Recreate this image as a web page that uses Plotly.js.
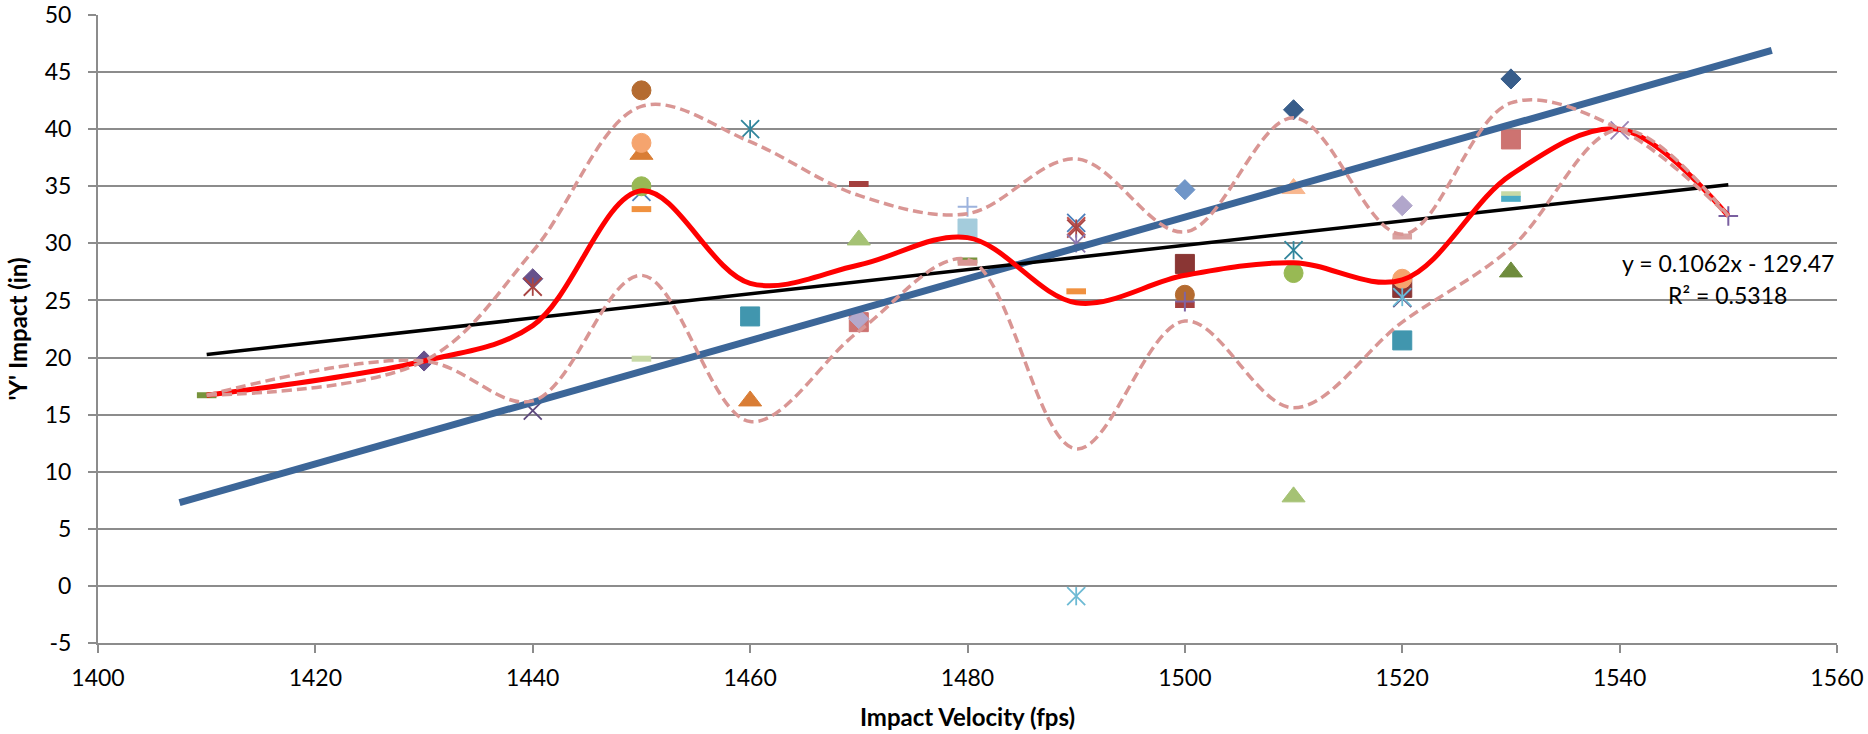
<!DOCTYPE html>
<html>
<head>
<meta charset="utf-8">
<script src="https://cdn.plot.ly/plotly-3.0.1.min.js"></script>
<style>
  html, body { margin: 0; padding: 0; background: #ffffff; }
  #chart { width: 1868px; height: 734px; }
</style>
</head>
<body>
<div id="chart"></div>
<script>
// ---------- data ----------
// velocities where the summary curves are defined
const velX   = [1410, 1430, 1440, 1450, 1460, 1470, 1480, 1490, 1500, 1510, 1520, 1530, 1540, 1550];
const meanY  = [16.7, 19.7, 22.8, 34.6, 26.5, 28.1, 30.5, 24.8, 27.2, 28.3, 26.8, 36.0, 40.0, 32.4];
const upperY = [16.7, 19.7, 29.3, 42.0, 38.9, 34.2, 32.6, 37.4, 31.0, 41.0, 30.8, 42.3, 40.0, 32.4];
const lowerY = [16.7, 19.7, 16.2, 27.2, 14.4, 22.3, 28.6, 12.0, 23.2, 15.6, 23.1, 29.6, 40.0, 32.4];

// linear trendline (y = 0.1062x - 129.47) end points
const trendX = [1410, 1550];
const trendY = [20.27, 35.14];
const trendLabel1 = "y = 0.1062x - 129.47";
const trendLabel2 = "R² = 0.5318";

// thick blue reference line end points
const blueX = [1407.5, 1554];
const blueY = [7.3, 46.9];

// individual shots grouped by marker shape
const diamondX = [1430, 1440, 1470, 1500, 1510, 1520, 1530];
const diamondY = [19.7, 26.9, 23.4, 34.7, 41.7, 33.3, 44.4];
const diamondC = ['#66518C', '#66518C', '#B3A8CB', '#7096C8', '#385D8A', '#B1A6CB', '#385D8A'];

const squareX = [1460, 1470, 1480, 1500, 1520, 1520, 1530];
const squareY = [23.6, 23.1, 31.3, 28.2, 26.1, 21.5, 39.1];
const squareC = ['#4196AE', '#CD7371', '#A4CCDC', '#8A3634', '#8A3634', '#4196AE', '#CD7371'];

const triangleX = [1450, 1460, 1470, 1510, 1510, 1530];
const triangleY = [37.8, 16.2, 30.3, 34.8, 7.8, 27.5];
const triangleC = ['#D97D35', '#D97D35', '#A5C274', '#F8B78F', '#A5C274', '#6F8C3D'];

const circleX = [1450, 1450, 1450, 1500, 1510, 1520];
const circleY = [43.4, 38.8, 35.0, 25.5, 27.4, 26.9];
const circleC = ['#B46B30', '#F5A46E', '#98B954', '#B46B30', '#98B954', '#F5A46E'];

const dashX = [1410, 1450, 1450, 1470, 1480, 1480, 1490, 1500, 1520, 1530, 1530];
const dashY = [16.7, 33.0, 19.9, 35.2, 28.5, 28.3, 25.8, 24.6, 30.6, 34.3, 33.9];
const dashC = ['#77933C', '#F0913F', '#C7D9A6', '#A4403E', '#77933C', '#D99694', '#F0913F', '#A4403E', '#D9A3A2', '#C7D9A6', '#4BACC6'];

const crossX = [1440, 1450, 1490, 1490, 1520, 1540];
const crossY = [15.35, 34.5, 31.8, 31.5, 25.2, 39.9];
const crossC = ['#5E4A7E', '#4A7EBB', '#4A7EBB', '#C0504D', '#5E4A7E', '#9983B5'];

const starX = [1440, 1460, 1490, 1490, 1490, 1510, 1520];
const starY = [26.2, 40.0, 31.3, 30.0, -0.9, 29.4, 25.3];
const starC = ['#A94442', '#31859C', '#A94442', '#8A76B0', '#6DBAD4', '#31859C', '#6DBAD4'];

const plusX = [1480, 1500, 1550];
const plusY = [33.2, 24.9, 32.4];
const plusC = ['#9DB3DD', '#8064A2', '#7A5FA0'];

const xTicks = [1400, 1420, 1440, 1460, 1480, 1500, 1520, 1540, 1560];
const yTicks = [-5, 0, 5, 10, 15, 20, 25, 30, 35, 40, 45, 50];

// ---------- traces ----------
function markers(x, y, c, symbol, size, lw) {
  return {
    type: 'scatter', mode: 'markers', x: x, y: y,
    hoverinfo: 'skip', showlegend: false,
    marker: { symbol: symbol, size: size, color: c, line: { color: c, width: lw } }
  };
}

const traces = [
  markers(squareX, squareY, squareC, 'square', 19, 1),
  markers(diamondX, diamondY, diamondC, 'diamond', 15.5, 1),
  markers(triangleX, triangleY, triangleC, 'triangle-up', 20, 1),
  markers(crossX, crossY, crossC, 'x-thin', 18, 1.8),
  markers(circleX, circleY, circleC, 'circle', 19, 1),
  markers(dashX, dashY, dashC, 'line-ew', 14, 6),
  markers(starX, starY, starC, 'x-thin', 18, 1.8),
  markers(starX, starY, starC, 'line-ns', 13, 1.8),
  markers(plusX, plusY, plusC, 'cross-thin', 14, 2),
  {
    type: 'scatter', mode: 'lines', x: blueX, y: blueY,
    hoverinfo: 'skip', showlegend: false,
    line: { color: '#3C6698', width: 7 }
  },
  {
    type: 'scatter', mode: 'lines', x: trendX, y: trendY,
    hoverinfo: 'skip', showlegend: false,
    line: { color: '#000000', width: 3.5 }
  },
  {
    type: 'scatter', mode: 'lines', x: velX, y: meanY,
    hoverinfo: 'skip', showlegend: false,
    line: { color: '#FF0000', width: 5, shape: 'spline', smoothing: 1 }
  },
  {
    type: 'scatter', mode: 'lines', x: velX, y: upperY,
    hoverinfo: 'skip', showlegend: false,
    line: { color: '#D99694', width: 3.5, dash: '10px,5px', shape: 'spline', smoothing: 1 }
  },
  {
    type: 'scatter', mode: 'lines', x: velX, y: lowerY,
    hoverinfo: 'skip', showlegend: false,
    line: { color: '#D99694', width: 3.5, dash: '10px,5px', shape: 'spline', smoothing: 1 }
  }
];

const FONT = 'Lato, "Open Sans", sans-serif';

const layout = {
  width: 1868, height: 734,
  margin: { l: 98, r: 31, t: 15, b: 91 },
  paper_bgcolor: '#ffffff', plot_bgcolor: '#ffffff',
  showlegend: false,
  font: { family: FONT, size: 23, color: '#000000' },
  xaxis: {
    range: [1400, 1560], tickvals: xTicks, ticktext: xTicks.map(String),
    showgrid: false, zeroline: false,
    showline: true, linecolor: '#8C8C8C', linewidth: 2,
    ticks: 'outside', ticklen: 8, tickwidth: 2, tickcolor: '#8C8C8C',
    tickfont: { family: FONT, size: 23, color: '#000000' },
    ticklabelstandoff: 5,
    title: { text: 'Impact Velocity (fps)', font: { family: FONT, size: 24, color: '#000000', weight: 'bold' }, standoff: 20 },
    fixedrange: true
  },
  yaxis: {
    range: [-5, 50], tickvals: yTicks, ticktext: yTicks.map(String),
    showgrid: true, gridcolor: '#8C8C8C', gridwidth: 2,
    zeroline: false,
    showline: true, linecolor: '#8C8C8C', linewidth: 2,
    ticks: 'outside', ticklen: 8, tickwidth: 2, tickcolor: '#8C8C8C',
    tickfont: { family: FONT, size: 23, color: '#000000' },
    ticklabelstandoff: 12,
    title: { text: "'Y' Impact (in)", font: { family: FONT, size: 24, color: '#000000', weight: 'bold' }, standoff: 10 },
    fixedrange: true
  },
  annotations: [
    { xref: 'paper', yref: 'y', x: 0.9373, y: 28.3, text: trendLabel1, showarrow: false,
      xanchor: 'center', yanchor: 'middle', font: { family: FONT, size: 23, color: '#000000' } },
    { xref: 'paper', yref: 'y', x: 0.9373, y: 25.5, text: trendLabel2, showarrow: false,
      xanchor: 'center', yanchor: 'middle', font: { family: FONT, size: 23, color: '#000000' } }
  ]
};

Plotly.newPlot('chart', traces, layout, { staticPlot: true, displayModeBar: false });
</script>
</body>
</html>
